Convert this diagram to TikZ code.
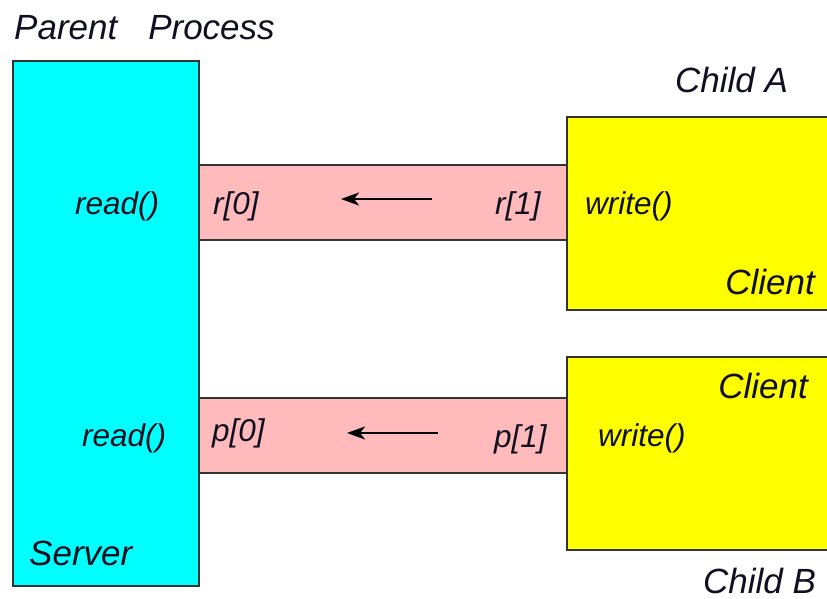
\documentclass[tikz,border=0pt]{standalone}
\usepackage{fontspec}
\setmainfont{Liberation Sans}
\usetikzlibrary{arrows.meta}
\definecolor{servercol}{HTML}{00FFFF}
\definecolor{clientcol}{HTML}{FFFF00}
\definecolor{pipecol}{HTML}{FFBBBB}
\definecolor{edgecol}{HTML}{333333}
\definecolor{txtcol}{HTML}{101020}
\tikzset{
  boxshape/.style={draw=edgecol, line width=2pt, anchor=north west, inner sep=0pt, outer sep=0pt},
  pipeshape/.style={draw=edgecol, line width=2pt, fill=pipecol},
  biglabel/.style={font=\fontsize{35}{40}\selectfont\itshape, text=txtcol, inner sep=0pt},
  smalllabel/.style={font=\fontsize{31.5}{36}\selectfont\itshape, text=txtcol, inner sep=0pt},
  flowarrow/.style={draw=black, line width=2.6pt, -{Stealth[length=18pt,width=13pt,inset=5pt]}}
}
\begin{document}
\begin{tikzpicture}[x=1pt,y=-1pt]
\useasboundingbox (0,0) rectangle (827,599);
\clip (0,0) rectangle (827,599);
\fill[white] (0,0) rectangle (827,599);
% pipes
\path[pipeshape] (150,165) rectangle (620,240);
\path[pipeshape] (150,398) rectangle (620,473);
% boxes
\node[boxshape, fill=servercol, minimum width=186pt, minimum height=525pt] (server) at (13,61) {};
\node[boxshape, fill=clientcol, minimum width=290pt, minimum height=193pt] (clientA) at (567,117) {};
\node[boxshape, fill=clientcol, minimum width=290pt, minimum height=193pt] (clientB) at (567,357) {};
% titles
\node[biglabel, anchor=base west] (parent) at (14,40) {Parent\hspace{31pt}Process};
\node[biglabel, anchor=base west] (childA) at (675,93) {Child A};
\node[biglabel, anchor=base east] (clientAlbl) at (815,294) {Client};
\node[biglabel, anchor=base east] (clientBlbl) at (808,398) {Client};
\node[biglabel, anchor=base west] (childB) at (703,593) {Child B};
\node[biglabel, anchor=base west] (serverlbl) at (29,565) {Server};
% small labels
\node[smalllabel, anchor=base west] (readA) at (75,214) {read()};
\node[smalllabel, anchor=base west] (r0) at (213,214) {r[0]};
\node[smalllabel, anchor=base west] (r1) at (495,214) {r[1]};
\node[smalllabel, anchor=base west] (writeA) at (585,214) {write()};
\node[smalllabel, anchor=base west] (readB) at (82,446) {read()};
\node[smalllabel, anchor=base west] (p0) at (212,441) {p[0]};
\node[smalllabel, anchor=base west] (p1) at (494,447) {p[1]};
\node[smalllabel, anchor=base west] (writeB) at (598,446) {write()};
% arrows
\coordinate (aS) at (432,199);
\coordinate (aE) at (341,199);
\coordinate (bS) at (438,433);
\coordinate (bE) at (347,433);
\draw[flowarrow] (aS) -- (aE);
\draw[flowarrow] (bS) -- (bE);
\end{tikzpicture}
\end{document}
